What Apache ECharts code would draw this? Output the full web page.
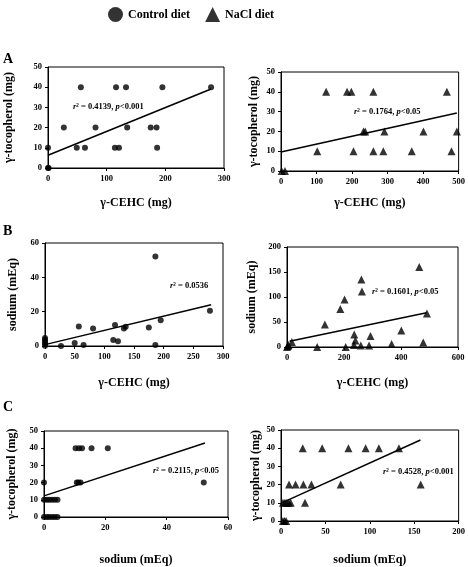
<!DOCTYPE html>
<html><head><meta charset="utf-8">
<script src="https://cdn.jsdelivr.net/npm/echarts@6/dist/echarts.min.js"></script>
<style>html,body{margin:0;padding:0;background:#fff}#c{width:468px;height:567px}</style>
</head><body><div id="c"></div>
<script>
// ---- Data ----
// Panel A left: γ-CEHC vs γ-tocopherol, control
const aCtrlX = [0, 1, 0, 27, 49, 56, 63, 81, 114, 116, 121, 133, 135, 175, 185, 186, 195, 278];
const aCtrlY = [0, 0, 10, 20, 10, 40, 10, 20, 10, 40, 10, 40, 20, 20, 20, 10, 40, 40];
const aCtrlTrend = [[0, 6.3], [278, 39.1]];
// Panel A right: NaCl
const aNaclX = [2, 11, 102, 127, 186, 198, 204, 232, 237, 260, 260, 288, 291, 368, 401, 467, 480, 495];
const aNaclY = [0, 0, 10, 40, 40, 40, 10, 20, 20, 40, 10, 10, 20, 10, 20, 40, 10, 20];
const aNaclTrend = [[0, 9.6], [495, 29.3]];
// Panel B left: γ-CEHC vs sodium, control
const bCtrlX = [0, 0, 0, 0, 0, 27, 50, 57, 65, 81, 115, 118, 123, 133, 136, 175, 186, 186, 195, 278];
const bCtrlY = [0.2, 1.4, 2.5, 3.7, 4.6, 0, 1.8, 11.4, 0.6, 10.2, 3.5, 12.2, 2.7, 10.2, 11.2, 10.8, 52.2, 0.6, 15, 20.5];
const bCtrlTrend = [[0, 0.8], [280, 24]];
// Panel B right: NaCl
const bNaclX = [0, 3, 5, 17, 106, 133, 187, 202, 206, 235, 236, 240, 259, 261, 263, 288, 293, 367, 401, 464, 478, 491];
const bNaclY = [0, 2, 4, 10, 0, 45, 76, 95, 0, 4, 25, 13, 3, 135, 111, 3, 22, 6, 33, 160, 9, 67];
const bNaclTrend = [[9, 11.3], [490, 68.7]];
// Panel C left: sodium vs γ-tocopherol, control
const cCtrlX = [10.3, 11.4, 12.4, 15.5, 20.8, 0, 10.7, 11.2, 11.9, 52.1, 0, 0.9, 1.7, 2.6, 3.5, 4.4, 0, 0.9, 1.7, 2.6, 3.5, 4.4];
const cCtrlY = [40, 40, 40, 40, 40, 20, 20, 20, 20, 20, 10, 10, 10, 10, 10, 10, 0, 0, 0, 0, 0, 0];
const cCtrlTrend = [[0, 12.3], [52.5, 43]];
// Panel C right: NaCl
const cNaclX = [24.5, 46.4, 75.9, 95.3, 110.2, 132.8, 9.1, 16.4, 25.2, 34.3, 67.2, 157.3, 2.2, 4.4, 6.6, 8.8, 10.9, 27, 2.2, 4, 5.8];
const cNaclY = [40, 40, 40, 40, 40, 40, 20, 20, 20, 20, 20, 20, 10, 10, 10, 10, 10, 10, 0, 0, 0];
const cNaclTrend = [[1.5, 10.1], [157, 44.5]];

// Axis ranges: [min, max, interval]
const xRanges = [[0, 300, 100], [0, 500, 100], [0, 300, 50], [0, 600, 200], [0, 60, 20], [0, 200, 50]];
const yRanges = [[0, 50, 10], [0, 50, 10], [0, 60, 20], [0, 200, 50], [0, 50, 10], [0, 50, 10]];
const xNames = ['γ-CEHC (mg)', 'γ-CEHC (mg)', 'γ-CEHC (mg)', 'γ-CEHC (mg)', 'sodium (mEq)', 'sodium (mEq)'];
const yNames = ['γ-tocopherol (mg)', 'γ-tocopherol (mg)', 'sodium (mEq)', 'sodium (mEq)', 'γ-tocopherol (mg)', 'γ-tocopherol (mg)'];
const stats = [
  ['0.4139', '<0.001'], ['0.1764', '<0.05'], ['0.0536', null],
  ['0.1601', '<0.05'], ['0.2115', '<0.05'], ['0.4528', '<0.001']
];
const panelLetters = ['A', 'B', 'C'];
const groups = ['Control diet', 'NaCl diet'];

// ---- Layout ----
const FONT = 'Liberation Serif';
const grids = [
  {left: 48, top: 67, width: 176, height: 101},
  {left: 281, top: 72, width: 179, height: 99},
  {left: 45, top: 243, width: 178, height: 103},
  {left: 287, top: 247, width: 171, height: 100},
  {left: 44, top: 431, width: 184, height: 88},
  {left: 281, top: 430, width: 180, height: 94}
];
const xGap = [29, 26, 31, 30, 37, 33];
const yGap = [33, 21, 26, 29, 26, 19];
const annPos = [[73, 107], [354, 112], [170, 286], [372, 292], [153, 471], [383, 472]];
const letterPos = [[3, 59], [3, 231], [3, 407]];

const sets = [
  [aCtrlX, aCtrlY, aCtrlTrend, 0], [aNaclX, aNaclY, aNaclTrend, 1],
  [bCtrlX, bCtrlY, bCtrlTrend, 0], [bNaclX, bNaclY, bNaclTrend, 1],
  [cCtrlX, cCtrlY, cCtrlTrend, 0], [cNaclX, cNaclY, cNaclTrend, 1]
];

const black = '#000';
const xAxis = [], yAxis = [], series = [], graphic = [];
grids.forEach((g, i) => {
  g.show = true; g.borderColor = black; g.borderWidth = 1; g.backgroundColor = 'transparent';
  xAxis.push({
    type: 'value', gridIndex: i, min: xRanges[i][0], max: xRanges[i][1], interval: xRanges[i][2],
    name: xNames[i], nameLocation: 'middle', nameGap: xGap[i],
    nameTextStyle: {fontFamily: FONT, fontWeight: 'bold', fontSize: 12, color: black},
    axisLine: {show: true, lineStyle: {color: black, width: 1}},
    axisTick: {show: true, length: 3, lineStyle: {color: black}},
    axisLabel: {fontFamily: FONT, fontWeight: 'bold', fontSize: 8.5, color: black, margin: 6},
    splitLine: {show: false}
  });
  yAxis.push({
    type: 'value', gridIndex: i, min: yRanges[i][0], max: yRanges[i][1], interval: yRanges[i][2],
    name: yNames[i], nameLocation: 'middle', nameGap: yGap[i],
    nameTextStyle: {fontFamily: FONT, fontWeight: 'bold', fontSize: 12, color: black},
    axisLine: {show: true, lineStyle: {color: black, width: 1}},
    axisTick: {show: true, length: 3, lineStyle: {color: black}},
    axisLabel: {fontFamily: FONT, fontWeight: 'bold', fontSize: 8.5, color: black, margin: 6},
    splitLine: {show: false}
  });
  const [xs, ys, tr, grp] = sets[i];
  series.push({
    type: 'scatter', name: groups[grp], xAxisIndex: i, yAxisIndex: i,
    symbol: grp === 0 ? 'circle' : 'triangle', symbolSize: grp === 0 ? 6 : 8,
    itemStyle: {color: black}, clip: false,
    data: xs.map((x, k) => [x, ys[k]])
  });
  series.push({
    type: 'line', name: 'trend' + i, xAxisIndex: i, yAxisIndex: i,
    symbol: 'none', lineStyle: {color: black, width: 1.5}, clip: false,
    data: tr
  });
  const st = stats[i];
  const txt = '{i|r}{n|² = ' + st[0] + (st[1] ? ', }{i|p}{n|' + st[1] + '}' : '}');
  graphic.push({
    type: 'text', left: annPos[i][0], top: annPos[i][1] - 5,
    style: {
      text: txt, fill: black,
      rich: {
        i: {fontFamily: FONT, fontStyle: 'italic', fontWeight: 'bold', fontSize: 8.5, fill: black},
        n: {fontFamily: FONT, fontWeight: 'bold', fontSize: 8.5, fill: black}
      }
    }
  });
});
panelLetters.forEach((L, k) => {
  graphic.push({
    type: 'text', left: letterPos[k][0], top: letterPos[k][1] - 7,
    style: {text: L, fill: black, font: 'bold 14px "' + FONT + '"'}
  });
});

const chart = echarts.init(document.getElementById('c'), null, {renderer: 'canvas'});
chart.setOption({
  animation: false,
  backgroundColor: '#fff',
  legend: {
    left: 103, top: 2, itemWidth: 15, itemHeight: 15, itemGap: 15,
    data: [{name: groups[0], icon: 'circle'}, {name: groups[1], icon: 'triangle'}],
    textStyle: {fontFamily: FONT, fontWeight: 'bold', fontSize: 12, color: black},
    selectedMode: false
  },
  grid: grids, xAxis, yAxis, series, graphic
});
</script></body></html>
